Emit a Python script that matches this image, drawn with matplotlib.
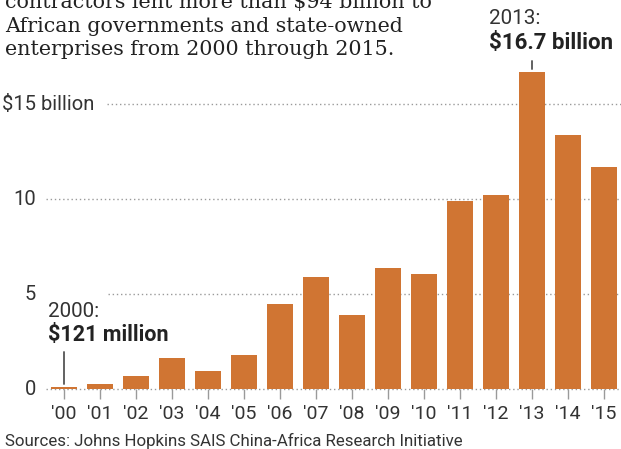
import matplotlib
matplotlib.use("Agg")
import matplotlib.pyplot as plt
from matplotlib.transforms import blended_transform_factory

years = ["'00", "'01", "'02", "'03", "'04", "'05", "'06", "'07",
         "'08", "'09", "'10", "'11", "'12", "'13", "'14", "'15"]
loans = [0.121, 0.28, 0.70, 1.63, 0.96, 1.82, 4.49, 5.93,
         3.91, 6.37, 6.07, 9.89, 10.24, 16.7, 13.4, 11.72]
ytick_vals = [0, 5, 10, 15]
ytick_labels = ["0", "5", "10", "$15 billion"]
title_lines = ["contractors lent more than $94 billion to",
               "African governments and state-owned",
               "enterprises from 2000 through 2015."]
source = "Sources: Johns Hopkins SAIS China-Africa Research Initiative"

W, H = 621, 449
fig = plt.figure(figsize=(W / 100, H / 100), dpi=100)

def fx(px):
    return px / W

def fy(py):
    return 1 - py / H

SANS = ["Roboto", "DejaVu Sans"]
SERIF = ["DejaVu Serif"]
BAR = "#d07533"
GRID = "#9a9a9a"
TXT = "#333333"

y0_px = 389.3
ppu = 19.0
ymax = 17.0
left_px, right_px = 46, 621
ax = fig.add_axes([fx(left_px), fy(y0_px), (right_px - left_px) / W, ymax * ppu / H])
x = list(range(len(years)))
ax.set_xlim((left_px - 64) / 36.0, (right_px - 64) / 36.0)
ax.set_ylim(0, ymax)
for s in ax.spines.values():
    s.set_visible(False)
ax.patch.set_alpha(0)

grid_start = {0: 46, 5: 108, 10: 46, 15: 107}
for v in ytick_vals:
    xs = (grid_start[v] - left_px) / (right_px - left_px)
    ax.axhline(v, xmin=xs, xmax=1, color=GRID, lw=1.0,
               linestyle=(0, (1, 2)), zorder=1, clip_on=False)

ax.bar(x, loans, width=0.72, color=BAR, linewidth=0.0, zorder=2)

ax.set_xticks(x)
ax.set_xticklabels(years, fontfamily=SANS, fontsize=14, color=TXT)
ax.tick_params(axis="x", length=7, width=1, color=GRID, pad=4.5)
ax.set_yticks([])

ytr = blended_transform_factory(fig.transFigure, ax.transData)
for v, lab in zip(ytick_vals, ytick_labels):
    if v == 15:
        ax.text(fx(2), v, lab, transform=ytr, ha="left", va="center",
                fontsize=14.5, color=TXT, fontfamily=SANS)
    else:
        ax.text(fx(36), v, lab, transform=ytr, ha="right", va="center",
                fontsize=14.5, color=TXT, fontfamily=SANS)

ax.annotate("", xy=(0, loans[0]), xytext=(0, (y0_px - 349) / ppu),
            arrowprops=dict(arrowstyle="-", color="#222222", lw=1.0))
fig.text(fx(48), fy(317), "2000:", fontsize=14.9, color=TXT, fontfamily=SANS,
         va="baseline", ha="left")
fig.text(fx(48), fy(341), "$121 million", fontsize=15.5, color="#222222",
         fontfamily=SANS, fontweight="bold", va="baseline", ha="left")

ax.annotate("", xy=(13, loans[13]), xytext=(13, (y0_px - 58) / ppu),
            arrowprops=dict(arrowstyle="-", color="#222222", lw=1.0),
            annotation_clip=False)
fig.text(fx(489), fy(24), "2013:", fontsize=14.9, color=TXT, fontfamily=SANS,
         va="baseline", ha="left")
fig.text(fx(489), fy(49), "$16.7 billion", fontsize=16, color="#222222",
         fontfamily=SANS, fontweight="bold", va="baseline", ha="left")

for i, line in enumerate(title_lines):
    fig.text(fx(5), fy(8.4 + 23.3 * i), line, fontsize=14.9, color="#222222",
             fontfamily=SERIF, va="baseline", ha="left")

fig.text(fx(5), fy(446), source, fontsize=12.2, color=TXT, fontfamily=SANS,
         va="baseline", ha="left")

fig.savefig("out.png", dpi=100)
